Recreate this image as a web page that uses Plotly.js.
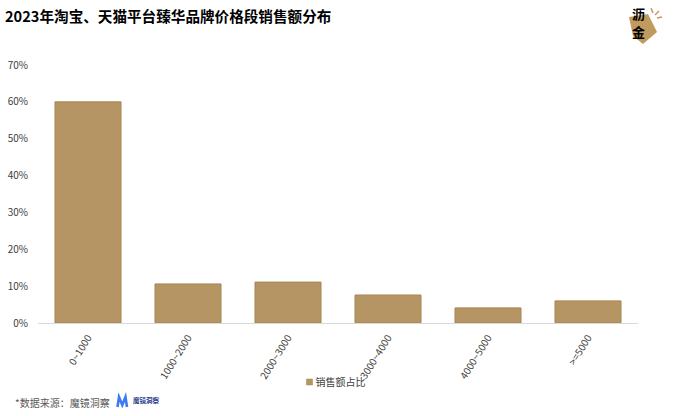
<!DOCTYPE html>
<html>
<head>
<meta charset="utf-8">
<script src="https://cdn.plot.ly/plotly-3.0.1.min.js"></script>
<style>html,body{margin:0;padding:0;background:#fff;}#chart{width:700px;height:416px;}</style>
</head>
<body>
<div id="chart"></div>
<script>
const categories = ['0~1000', '1000~2000', '2000~3000', '3000~4000', '4000~5000', '>=5000'];
const salesShare = [0.60, 0.106, 0.111, 0.076, 0.041, 0.060];
const seriesName = '销售额占比';
const yTickVals = [0, 0.1, 0.2, 0.3, 0.4, 0.5, 0.6, 0.7];
const yTickText = ['0%', '10%', '20%', '30%', '40%', '50%', '60%', '70%'];

const W = 700, H = 416;
const L = 38, R = 62, T = 65, B = 93;
const pw = W - L - R, ph = H - T - B;
const px = x => (x - L) / pw;
const py = y => (H - B - y) / ph;
const FONT = '"Noto Sans CJK SC", "Microsoft YaHei", sans-serif';

const trace = {
  type: 'bar',
  x: categories,
  y: salesShare,
  name: seriesName,
  marker: {color: '#B59563', line: {color: '#A8854F', width: 1}},
  hoverinfo: 'skip',
  showlegend: true
};

function P(pts) {
  return pts.map((p, i) => (i ? 'L' : 'M') + px(p[0]).toFixed(4) + ',' + py(p[1]).toFixed(4)).join(' ') + ' Z';
}
function Pl(pts) {
  return pts.map((p, i) => (i ? 'L' : 'M') + px(p[0]).toFixed(4) + ',' + py(p[1]).toFixed(4)).join(' ');
}

const shapes = [
  {type: 'path', xref: 'paper', yref: 'paper', path: P([[629,17],[648,14],[657,32],[643,44],[633,36]]), fillcolor: '#C09A5E', line: {width: 0}, layer: 'below'},
  {type: 'line', xref: 'paper', yref: 'paper', x0: px(651), y0: py(8), x1: px(653), y1: py(13), line: {color: '#C09A5E', width: 1.5}},
  {type: 'line', xref: 'paper', yref: 'paper', x0: px(655), y0: py(15), x1: px(659), y1: py(11), line: {color: '#C09A5E', width: 1.5}},
  {type: 'line', xref: 'paper', yref: 'paper', x0: px(657), y0: py(18), x1: px(662), y1: py(17), line: {color: '#C09A5E', width: 1.5}},
  {type: 'path', xref: 'paper', yref: 'paper', path: Pl([[117.5,407],[119,397],[122.3,405],[125.5,397],[127,407]]), line: {color: '#3A7BF0', width: 2.6}}
];

const annotations = [
  {text: '沥', xref: 'paper', yref: 'paper', x: px(638), y: py(13), xanchor: 'center', yanchor: 'middle', showarrow: false, font: {family: FONT, size: 13, color: '#000', weight: 'bold'}},
  {text: '金', xref: 'paper', yref: 'paper', x: px(638), y: py(31), xanchor: 'center', yanchor: 'middle', showarrow: false, font: {family: FONT, size: 13, color: '#000', weight: 'bold'}},
  {text: '*数据来源：魔镜洞察', xref: 'paper', yref: 'paper', x: px(13), y: py(402), xanchor: 'left', yanchor: 'middle', showarrow: false, font: {family: FONT, size: 10, color: '#595959'}},
  {text: '魔镜洞察', xref: 'paper', yref: 'paper', x: px(131), y: py(400), xanchor: 'left', yanchor: 'middle', showarrow: false, font: {family: FONT, size: 6.5, color: '#1F3A8A', weight: 'bold'}}
];

const layout = {
  width: W, height: H,
  margin: {l: L, r: R, t: T, b: B, pad: 0},
  paper_bgcolor: '#fff', plot_bgcolor: '#fff',
  title: {text: '2023年淘宝、天猫平台臻华品牌价格段销售额分布', xref: 'container', yref: 'container', x: 5 / W, xanchor: 'left', y: 1 - 17 / H, yanchor: 'middle', font: {family: FONT, size: 14.6, color: '#000', weight: 'bold'}},
  bargap: 0.34,
  xaxis: {type: 'category', showgrid: false, zeroline: false, showline: true, linecolor: '#D9D9D9', linewidth: 1, ticks: '', tickangle: -58, ticklabelstandoff: 4, tickfont: {family: FONT, size: 10, color: '#404040'}, fixedrange: true},
  yaxis: {range: [0, 0.7], tickvals: yTickVals, ticktext: yTickText, showgrid: false, zeroline: false, showline: false, ticks: '', ticklabelstandoff: 9, tickfont: {family: FONT, size: 10, color: '#404040'}, fixedrange: true},
  showlegend: true,
  legend: {orientation: 'h', x: px(323), xanchor: 'center', y: py(382), yanchor: 'middle', font: {family: FONT, size: 10, color: '#404040'}, itemwidth: 30, bgcolor: 'rgba(0,0,0,0)'},
  shapes: shapes,
  annotations: annotations
};

Plotly.newPlot('chart', [trace], layout, {displayModeBar: false, staticPlot: true}).then(function () {
  document.querySelectorAll('.legend .legendpoints path').forEach(function (p) {
    const t = p.getAttribute('transform') || '';
    const m = t.match(/translate\(\s*([-\d.]+)[ ,]+([-\d.]+)\s*\)/);
    const tx = m ? parseFloat(m[1]) : 0;
    const ty = m ? parseFloat(m[2]) : 0;
    p.setAttribute('transform', 'translate(' + (tx + 14) + ',' + ty + ') scale(0.5)');
  });
});
</script>
</body>
</html>
